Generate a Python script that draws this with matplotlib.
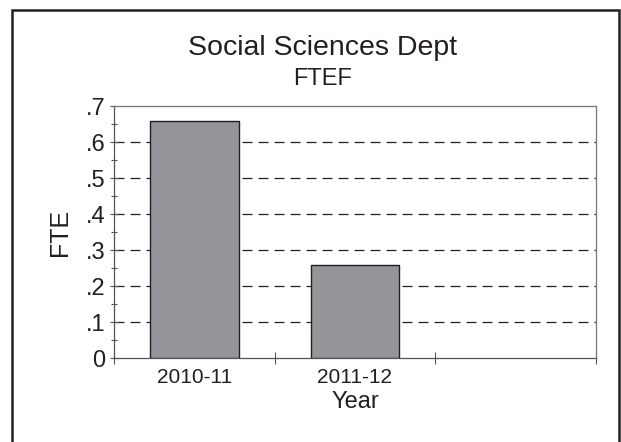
import numpy as np
import matplotlib
matplotlib.use("Agg")
import matplotlib.pyplot as plt
from matplotlib.patches import Rectangle
from matplotlib.ticker import MultipleLocator, FixedLocator

plt.rcParams['font.family'] = ['Liberation Sans', 'DejaVu Sans']

years = ["2010-11", "2011-12"]
fte = [0.66, 0.26]
yticks = [0, 0.1, 0.2, 0.3, 0.4, 0.5, 0.6, 0.7]
ytick_labels = ["0", ".1", ".2", ".3", ".4", ".5", ".6", ".7"]

W, H = 621, 442
fig = plt.figure(figsize=(W / 100, H / 100), dpi=100)
ax = fig.add_axes([114 / W, 1 - 358.3 / H, (596 - 114) / W, (358.3 - 106.3) / H])

x = np.arange(len(years))
ax.bar(x, fte, width=0.552, color="#939598", edgecolor="#231f20", linewidth=1.0, zorder=3)

ax.set_xlim(-0.5, 2.5)
ax.set_ylim(0, 0.7)

# y axis: major every .1, minor every .05, ticks crossing the spine
ax.yaxis.set_major_locator(FixedLocator(yticks))
ax.set_yticklabels(ytick_labels, fontsize=17, color="#231f20")
ax.yaxis.set_minor_locator(MultipleLocator(0.05))
ax.tick_params(axis="y", which="major", direction="inout", length=6, width=0.8,
               color="#555555", pad=3)
ax.tick_params(axis="y", which="minor", direction="inout", length=4, width=0.8,
               color="#555555")

# x axis: tick marks at slot boundaries, labels at slot centres
ax.xaxis.set_major_locator(FixedLocator([-0.5, 0.5, 1.5, 2.5]))
ax.xaxis.set_minor_locator(FixedLocator(x))
ax.set_xticklabels([])
ax.set_xticklabels(years, minor=True, fontsize=15, color="#231f20")
ax.tick_params(axis="x", which="major", direction="inout", length=8, width=0.8,
               color="#555555")
ax.tick_params(axis="x", which="minor", length=0, pad=7)

for yv in yticks[1:-1]:
    ax.axhline(yv, color="#231f20", lw=0.9, ls=(0, (8, 4.8)), zorder=1)

for s in ax.spines.values():
    s.set_color("#777777")
    s.set_linewidth(0.9)
ax.spines["left"].set_color("#555555")
ax.spines["bottom"].set_color("#555555")

fig.text(323 / W, 1 - 55 / H, "Social Sciences Dept", fontsize=20.5, ha="center",
         va="baseline", color="#231f20")
fig.text(323 / W, 1 - 85 / H, "FTEF", fontsize=17, ha="center", va="baseline",
         color="#231f20")
fig.text(60 / W, 1 - 232.3 / H, "FTE", fontsize=18, rotation=90, ha="center",
         va="center", color="#231f20")
fig.text(355 / W, 1 - 408 / H, "Year", fontsize=17, ha="center", va="baseline",
         color="#231f20")

# outer frame
fig.patches.append(Rectangle((12 / W, -0.1), (619 - 12) / W, 1.1 - 10 / H,
                             transform=fig.transFigure, fill=False,
                             edgecolor="#231f20", linewidth=1.8))

fig.savefig("out.png", dpi=100)
